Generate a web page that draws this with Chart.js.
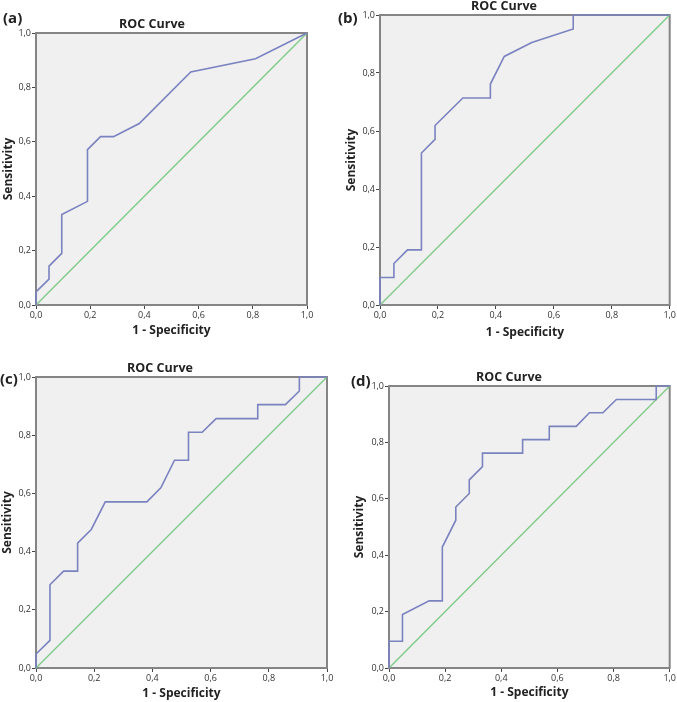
<!DOCTYPE html>
<html>
<head>
<meta charset="utf-8">
<script src="https://cdn.jsdelivr.net/npm/chart.js@4/dist/chart.umd.min.js"></script>
<style>
  body { margin: 0; background: #fff; }
  .panel { position: absolute; }
</style>
</head>
<body>
<div class="panel" style="left:0;top:0"><canvas id="cA" width="338" height="340"></canvas></div>
<div class="panel" style="left:338px;top:0"><canvas id="cB" width="339" height="340"></canvas></div>
<div class="panel" style="left:0;top:340px"><canvas id="cC" width="338" height="362"></canvas></div>
<div class="panel" style="left:338px;top:340px"><canvas id="cD" width="339" height="362"></canvas></div>
<script>
// ROC curve points, 1 - specificity (x) and sensitivity (y)
const fprA = [0, 0, 0.048, 0.048, 0.095, 0.095, 0.19, 0.19, 0.238, 0.286, 0.381, 0.571, 0.81, 1];
const tprA = [0, 0.048, 0.095, 0.143, 0.19, 0.333, 0.381, 0.571, 0.619, 0.619, 0.667, 0.857, 0.905, 1];

const fprB = [0, 0, 0.048, 0.048, 0.095, 0.143, 0.143, 0.19, 0.19, 0.286, 0.381, 0.381, 0.429, 0.524, 0.667, 0.667, 1];
const tprB = [0, 0.095, 0.095, 0.143, 0.19, 0.19, 0.524, 0.571, 0.619, 0.714, 0.714, 0.762, 0.857, 0.905, 0.952, 1, 1];

const fprC = [0, 0, 0.048, 0.048, 0.095, 0.143, 0.143, 0.19, 0.238, 0.381, 0.429, 0.476, 0.524, 0.524, 0.571, 0.619, 0.762, 0.762, 0.857, 0.905, 0.905, 1];
const tprC = [0, 0.048, 0.095, 0.286, 0.333, 0.333, 0.429, 0.476, 0.571, 0.571, 0.619, 0.714, 0.714, 0.81, 0.81, 0.857, 0.857, 0.905, 0.905, 0.952, 1, 1];

const fprD = [0, 0, 0.048, 0.048, 0.143, 0.19, 0.19, 0.238, 0.238, 0.286, 0.286, 0.333, 0.333, 0.476, 0.476, 0.571, 0.571, 0.667, 0.714, 0.762, 0.81, 0.952, 0.952, 1];
const tprD = [0, 0.095, 0.095, 0.19, 0.238, 0.238, 0.429, 0.524, 0.571, 0.619, 0.667, 0.714, 0.762, 0.762, 0.81, 0.81, 0.857, 0.857, 0.905, 0.905, 0.952, 0.952, 1, 1];

// reference line
const refX = [0, 1];
const refY = [0, 1];

const tickValues = [0, 0.2, 0.4, 0.6, 0.8, 1];
const tickLabels = ['0,0', '0,2', '0,4', '0,6', '0,8', '1,0'];

const chartTitle = 'ROC Curve';
const xTitle = '1 - Specificity';
const yTitle = 'Sensitivity';

const FONT = '"Open Sans", "DejaVu Sans", sans-serif';

// layout of each panel (local canvas coords)
const panels = [
  { id: 'cA', letter: '(a)', fpr: fprA, tpr: tprA, area: [36, 33, 307, 305], titleXY: [152, 24], letterXY: [3, 19], yPad: 1, xPad: 2 },
  { id: 'cB', letter: '(b)', fpr: fprB, tpr: tprB, area: [42, 15, 332, 305], titleXY: [166, 6], letterXY: [0, 19], yPad: 6, xPad: 0 },
  { id: 'cC', letter: '(c)', fpr: fprC, tpr: tprC, area: [36, 37, 327, 328], titleXY: [160, 28], letterXY: [0, 40], yPad: 0, xPad: 1 },
  { id: 'cD', letter: '(d)', fpr: fprD, tpr: tprD, area: [51, 46, 333, 328], titleXY: [171, 37], letterXY: [13, 42], yPad: 14, xPad: 2 }
];

const framePlugin = {
  id: 'frame',
  beforeDatasetsDraw(chart) {
    const { ctx, chartArea: a } = chart;
    ctx.save();
    ctx.fillStyle = '#f0f0f0';
    ctx.fillRect(a.left, a.top, a.right - a.left, a.bottom - a.top);
    ctx.strokeStyle = '#858585';
    ctx.lineWidth = 2;
    ctx.strokeRect(a.left, a.top, a.right - a.left, a.bottom - a.top);
    ctx.restore();
  },
  afterDraw(chart, args, opts) {
    const ctx = chart.ctx;
    ctx.save();
    ctx.fillStyle = '#222';
    ctx.textBaseline = 'middle';
    ctx.textAlign = 'center';
    ctx.font = 'bold 12.5px ' + FONT;
    ctx.fillText(chartTitle, opts.titleXY[0], opts.titleXY[1]);
    ctx.textAlign = 'left';
    ctx.font = 'bold 15px ' + FONT;
    ctx.fillText(opts.letter, opts.letterXY[0], opts.letterXY[1]);
    ctx.restore();
  }
};

panels.forEach(p => {
  const canvas = document.getElementById(p.id);
  const W = canvas.width, H = canvas.height;
  const [l, t, r, b] = p.area;
  new Chart(canvas, {
    type: 'scatter',
    data: {
      datasets: [
        {
          data: p.fpr.map((x, i) => ({ x: x, y: p.tpr[i] })),
          showLine: true,
          borderColor: '#7a82c0',
          borderWidth: 1.6,
          pointRadius: 0,
          clip: 3
        },
        {
          data: refX.map((x, i) => ({ x: x, y: refY[i] })),
          showLine: true,
          borderColor: '#7fcb87',
          borderWidth: 1.4,
          pointRadius: 0,
          clip: 3
        }
      ]
    },
    options: {
      responsive: false,
      animation: false,
      layout: { padding: { left: 0, top: t, right: W - r, bottom: 0 } },
      plugins: {
        legend: { display: false },
        tooltip: { enabled: false },
        frame: { titleXY: p.titleXY, letter: p.letter, letterXY: p.letterXY }
      },
      scales: {
        x: {
          type: 'linear', min: 0, max: 1,
          afterBuildTicks: s => { s.ticks = tickValues.map(v => ({ value: v })); },
          afterFit: s => { s.height = H - b; },
          ticks: {
            callback: (v) => tickLabels[tickValues.indexOf(v)],
            font: { family: FONT, size: 9 }, color: '#333', padding: 1, maxRotation: 0
          },
          grid: { drawOnChartArea: false, drawTicks: true, tickLength: 4, color: '#444' },
          border: { display: false },
          title: { display: true, text: xTitle, font: { family: FONT, size: 12, weight: 'bold' }, color: '#222', padding: { top: 0, bottom: p.xPad } }
        },
        y: {
          type: 'linear', min: 0, max: 1,
          afterBuildTicks: s => { s.ticks = tickValues.map(v => ({ value: v })); },
          afterFit: s => { s.width = l; },
          ticks: {
            callback: (v) => tickLabels[tickValues.indexOf(v)],
            font: { family: FONT, size: 9 }, color: '#333', padding: 1
          },
          grid: { drawOnChartArea: false, drawTicks: true, tickLength: 4, color: '#444' },
          border: { display: false },
          title: { display: true, text: yTitle, font: { family: FONT, size: 12, weight: 'bold' }, color: '#222', padding: { top: p.yPad, bottom: 0 } }
        }
      }
    },
    plugins: [framePlugin]
  });
});
</script>
</body>
</html>
